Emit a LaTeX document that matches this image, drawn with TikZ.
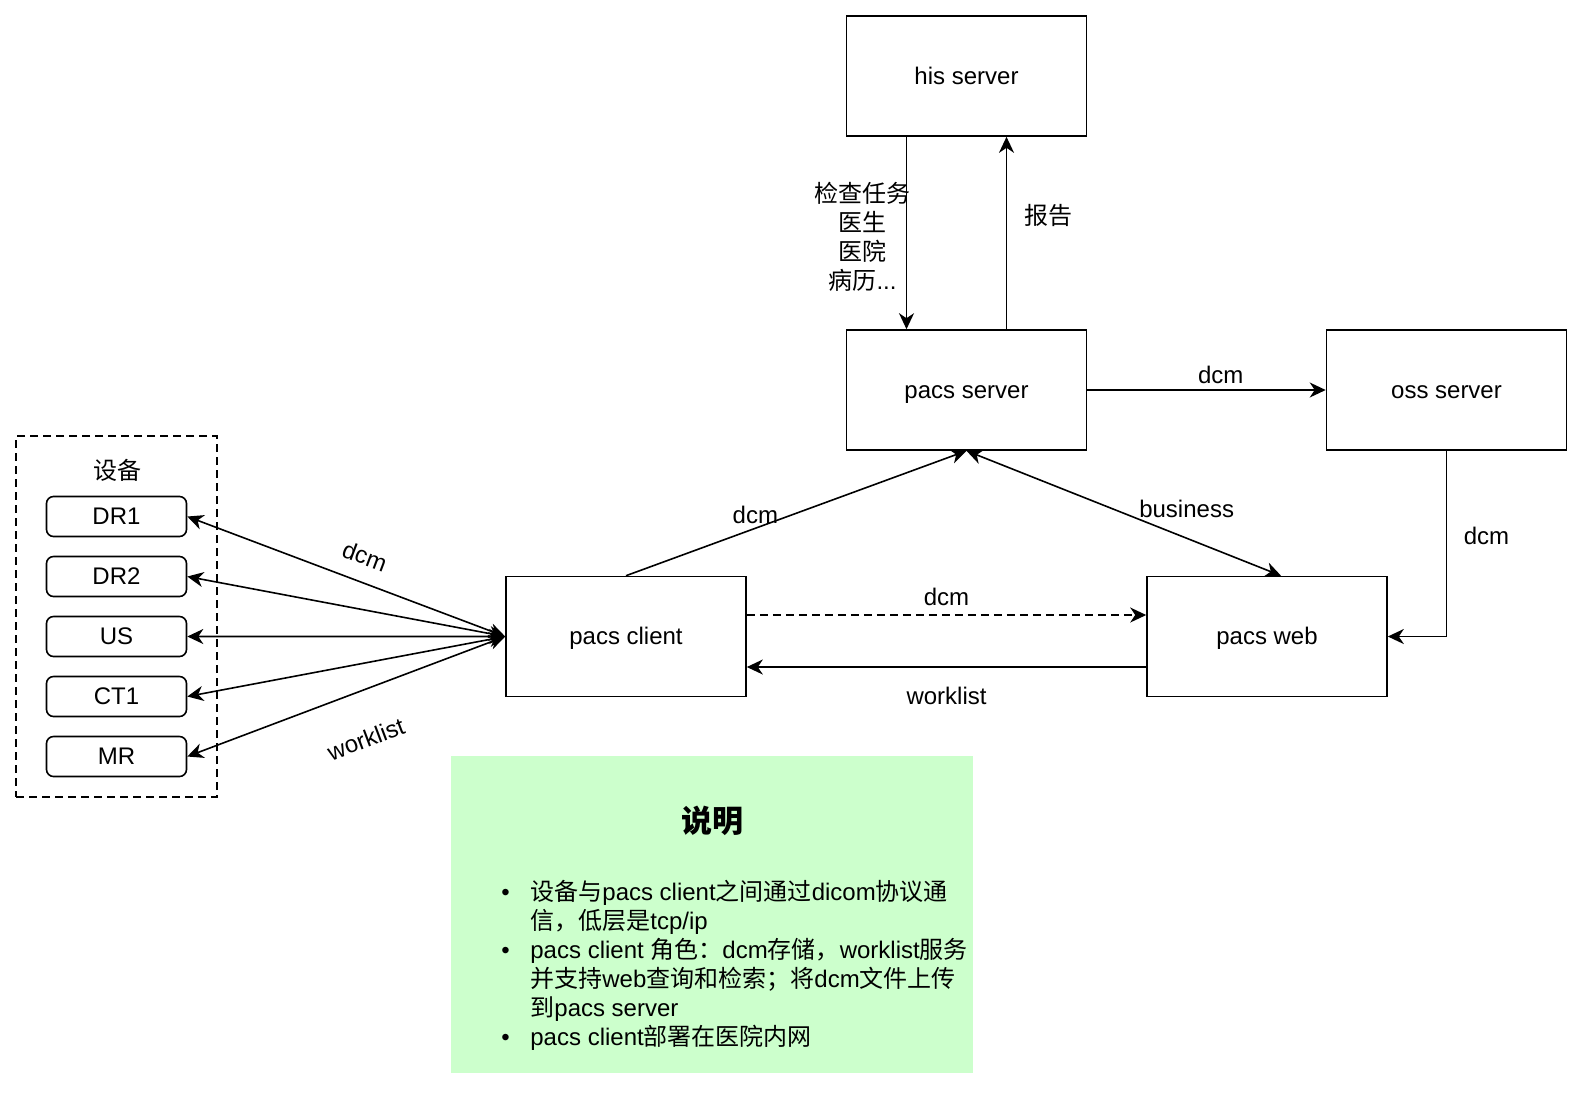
\documentclass[tikz,border=0pt,12pt]{standalone}
\usepackage{fontspec}
\setmainfont{Liberation Sans}
\newfontfamily\cjk{Noto Sans CJK SC}
\usepackage{tikz}
\usetikzlibrary{arrows.meta, positioning}
\definecolor{notegreen}{HTML}{CCFFCC}

\begin{document}
\begin{tikzpicture}[
  x=0.5pt, y=-0.5pt,
  server/.style={draw, rectangle, line width=0.8pt, minimum width=120pt, minimum height=60pt, inner sep=0pt, text height=10.9pt, text depth=2.5pt},
  device/.style={draw, rectangle, rounded corners=3.5pt, line width=0.8pt, minimum width=70pt, minimum height=20pt, inner sep=0pt, text height=10.9pt, text depth=2.5pt},
  group/.style={draw, rectangle, dashed, dash pattern=on 4pt off 2.5pt, line width=0.8pt, minimum width=100.5pt, minimum height=180.5pt},
  arrow/.style={line width=0.8pt, -{Stealth[length=8pt, width=7.5pt, inset=2.5pt]}},
  biarrow/.style={line width=0.8pt, {Stealth[length=8pt, width=7.5pt, inset=2.5pt]}-{Stealth[length=8pt, width=7.5pt, inset=2.5pt]}}
]
\useasboundingbox (0,0) rectangle (1584,1094);

% Servers
\node[server] (hisserver) at (966.5,76) {his server};
\node[server, below=96.2pt of hisserver] (pacsserver) {pacs server};
\node[server, right=119.2pt of pacsserver] (ossserver) {oss server};
\node[server] (pacsclient) at (626,636.5) {pacs client};
\node[server, right=199.7pt of pacsclient] (pacsweb) {pacs web};

% Devices (left group)
\node[group] (devicegroup) at (116.5,616.5) {};
\node (devicetitle) at (117,470) {{\cjk 设备}};
\node[device] (dr1) at (116.5,516.5) {DR1};
\node[device, below=9.2pt of dr1] (dr2) {DR2};
\node[device, below=9.2pt of dr2] (us) {US};
\node[device, below=9.2pt of us] (ct1) {CT1};
\node[device, below=9.2pt of ct1] (mr) {MR};

% Note box
\node[fill=notegreen, minimum width=261pt, minimum height=158.5pt, inner sep=0pt] (legend) at (712,914.5) {};
\node (legendtitle) at (712,821) {\fontsize{15.5}{18}\selectfont\cjk\bfseries 说明};
\node[anchor=north west, align=left, inner sep=0pt] (legendlist) at (501,880) {%
\makebox[14.5pt][l]{•}{\cjk 设备与}pacs client{\cjk 之间通过}dicom{\cjk 协议通}\\
\hspace*{14.5pt}{\cjk 信，低层是}tcp/ip\\
\makebox[14.5pt][l]{•}pacs client {\cjk 角色：}dcm{\cjk 存储，}worklist{\cjk 服务}\\
\hspace*{14.5pt}{\cjk 并支持}web{\cjk 查询和检索；将}dcm{\cjk 文件上传}\\
\hspace*{14.5pt}{\cjk 到}pacs server\\
\makebox[14.5pt][l]{•}pacs client{\cjk 部署在医院内网}};

% his server <-> pacs server
\draw[arrow] ([xshift=-30pt]hisserver.south) -- node[pos=.52, xshift=-22pt, align=center] {{\cjk 检查任务}\\{\cjk 医生}\\{\cjk 医院}\\{\cjk 病历}...} ([xshift=-30pt]pacsserver.north);
\draw[arrow] ([xshift=20pt]pacsserver.north) -- node[pos=.59, right=4.5pt] {{\cjk 报告}} ([xshift=20pt]hisserver.south);

% Storage
\draw[arrow] (pacsserver.east) -- node[pos=.56, yshift=7.5pt] {dcm} (ossserver.west);
\draw[arrow] (ossserver.south) |- node[pos=.23, xshift=20pt] {dcm} (pacsweb.east);

% pacs client, pacs web and pacs server
\draw[arrow] (pacsclient.north) -- node[pos=.38, yshift=6.5pt] {dcm} (pacsserver.south);
\draw[biarrow] (pacsserver.south) -- node[pos=.7, yshift=14.5pt] {business} ([xshift=7pt]pacsweb.north);
\draw[arrow, dashed, dash pattern=on 4pt off 2.5pt] ([yshift=10.75pt]pacsclient.east) -- node[midway, yshift=9pt] {dcm} ([yshift=10.75pt]pacsweb.west);
\draw[arrow] ([yshift=-15.25pt]pacsweb.west) -- node[midway, yshift=-14.5pt] {worklist} ([yshift=-15.25pt]pacsclient.east);

% Devices to pacs client
\draw[biarrow] (dr1.east) -- node[pos=.53, sloped, above=4pt] {dcm} (pacsclient.west);
\draw[biarrow] (dr2.east) -- (pacsclient.west);
\draw[biarrow] (us.east) -- (pacsclient.west);
\draw[biarrow] (ct1.east) -- (pacsclient.west);
\draw[biarrow] (mr.east) -- node[pos=.51, sloped, below=14.5pt] {worklist} (pacsclient.west);

\end{tikzpicture}
\end{document}
